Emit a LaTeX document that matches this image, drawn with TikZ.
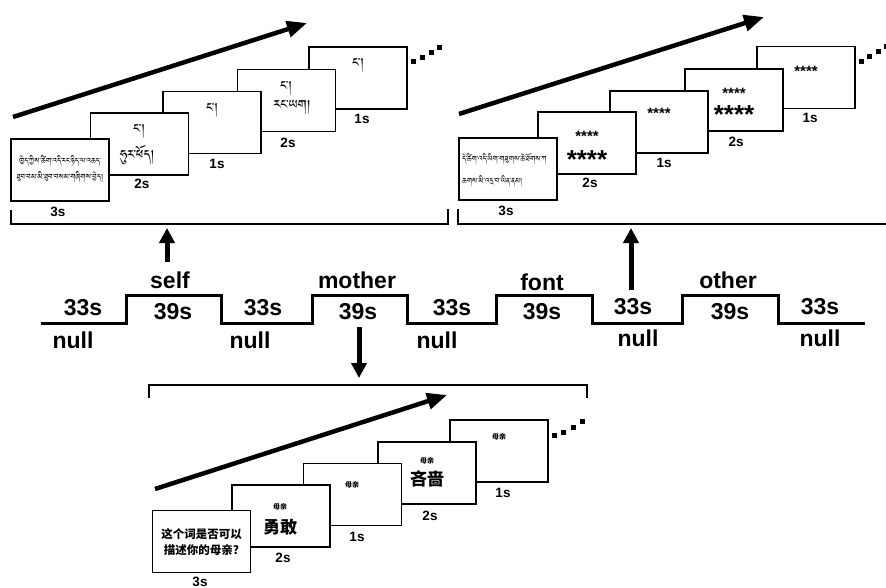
\documentclass[tikz,border=0pt]{standalone}
\usepackage{fontspec}
\setmainfont{Liberation Sans}
\newfontfamily\cjk{Noto Sans CJK SC}
\IfFontExistsTF{Jomolhari}{\newfontfamily\tib[Script=Tibetan]{Jomolhari}}{\newfontfamily\tib{FreeSerif}}
\usetikzlibrary{arrows.meta}
\tikzset{
  frame/.style={draw, line width=1.6pt, fill=white, minimum width=98pt, minimum height=62pt, inner sep=0pt},
  dur/.style={font=\fontsize{13.5}{14}\selectfont\bfseries, inner sep=0pt},
  tl/.style={font=\fontsize{23}{24}\selectfont\bfseries, inner sep=0pt},
  bigarrow/.style={line width=4.5pt, -{Triangle[length=20pt,width=16pt]}},
  vertarrow/.style={line width=5pt, -{Triangle[length=15pt,width=15pt]}},
  bracket/.style={line width=1.6pt},
  sq/.style={fill=black},
  star/.style={font=\fontsize{#1}{#1}\selectfont\bfseries, inner sep=0pt},
  zh/.style={font=\cjk\fontsize{#1}{#1}\selectfont\bfseries, inner sep=0pt},
  bo/.style={font=\tib\fontsize{#1}{#1}\selectfont, inner sep=0pt},
}
\begin{document}
\begin{tikzpicture}[x=1pt,y=-1pt]
\useasboundingbox (0,0) rectangle (886,588);

% ---------- top-left panel ----------
\draw[bigarrow] (13,117) -- (307,23);
\node[frame] (a5) at (358,78) {};
\node[frame] (a4) at (286.5,100.5) {};
\node[frame] (a3) at (212,122.5) {};
\node[frame] (a2) at (139.5,144) {};
\node[frame] (a1) at (60,170) {};
\node[dur] (a1t) at (58,212) {3s};
\node[dur] (a2t) at (142,184) {2s};
\node[dur] (a3t) at (217,164) {1s};
\node[dur] (a4t) at (288,143) {2s};
\node[dur] (a5t) at (362,119) {1s};
\node[bo=9.5] (a1a) at (60,161) {ཁྱེད་ཀྱིས་ཚིག་འདི་རང་ཉིད་ལ་འཆད་};
\node[bo=9.5] (a1b) at (60,177) {ཐུབ་བམ་མི་ཐུབ་བསམ་གཞིགས་བྱེད།};
\node[bo=16] (a2a) at (139,131) {ང།};
\node[bo=16] (a2b) at (137,155) {ཧུར་ཕོད།};
\node[bo=16] (a3a) at (212,110) {ང།};
\node[bo=16] (a4a) at (286,88) {ང།};
\node[bo=16] (a4b) at (292,108) {རང་ཡག།};
\node[bo=16] (a5a) at (358,65) {ང།};
\foreach \x/\y in {413/62,422/58,431/53,439/48}{\fill[sq] (\x-2.5,\y-2.5) rectangle (\x+2.5,\y+2.5);}
\draw[bracket] (11,210) -- (11,224) -- (448,224) -- (448,209);

% ---------- top-right panel ----------
\draw[bigarrow] (459,114) -- (764,17);
\node[frame] (b5) at (806,77.5) {};
\node[frame] (b4) at (734,100) {};
\node[frame] (b3) at (659,122) {};
\node[frame] (b2) at (587,143) {};
\node[frame] (b1) at (508,169) {};
\node[dur] (b1t) at (506,211) {3s};
\node[dur] (b2t) at (590,183) {2s};
\node[dur] (b3t) at (664,163) {1s};
\node[dur] (b4t) at (736,142) {2s};
\node[dur] (b5t) at (810,118) {1s};
\node[bo=9.3, anchor=west] (b1a) at (462,159) {དེ་ཚིག་འདི་ཡིག་གཟུགས་ཆེ་ཐོགས་ཀ};
\node[bo=9.3, anchor=west] (b1b) at (462,181) {ཆགས་མི་འདྲ་བ་ཡིན་ནམ།};
\node[star=15] (b2s) at (587,136) {****};
\node[star=26] (b2l) at (587,160) {****};
\node[star=15] (b3s) at (659,113) {****};
\node[star=15] (b4s) at (734,93) {****};
\node[star=26] (b4l) at (734,115) {****};
\node[star=15] (b5s) at (806,71) {****};
\foreach \x/\y in {861/62,869/57,878/52,886/47}{\fill[sq] (\x-2.5,\y-2.5) rectangle (\x+2.5,\y+2.5);}
\draw[bracket] (458,209) -- (458,224) -- (886,224);

% ---------- timeline ----------
\draw[line width=3pt] (41,323) -- (126,323) -- (126,295) -- (221,295) -- (221,323)
  -- (312,323) -- (312,295) -- (407,295) -- (407,323) -- (496,323) -- (496,295)
  -- (592,295) -- (592,323) -- (682,323) -- (682,295) -- (778,295) -- (778,323) -- (865,323);
\node[tl] (n1d) at (83,308) {33s};
\node[tl] (n1) at (73,340) {null};
\node[tl] (self) at (170,280) {self};
\node[tl] (selfd) at (173,312) {39s};
\node[tl] (n2d) at (263,308) {33s};
\node[tl] (n2) at (250,340) {null};
\node[tl] (moth) at (357,280) {mother};
\node[tl] (mothd) at (358,312) {39s};
\node[tl] (n3d) at (452,308) {33s};
\node[tl] (n3) at (437,340) {null};
\node[tl] (font) at (542,282) {font};
\node[tl] (fontd) at (542,312) {39s};
\node[tl] (n4d) at (633,307) {33s};
\node[tl] (n4) at (638,338) {null};
\node[tl] (oth) at (728,280) {other};
\node[tl] (othd) at (730,312) {39s};
\node[tl] (n5d) at (820,307) {33s};
\node[tl] (n5) at (820,338) {null};

\coordinate (selftip) at (167,228);
\coordinate (fonttip) at (631,228);
\coordinate (mothtip) at (359,378);
\draw[vertarrow] (167,262) -- (selftip);
\draw[vertarrow] (631,290) -- (fonttip);
\draw[vertarrow] (359,327) -- (mothtip);

% ---------- bottom panel ----------
\draw[bracket] (149,398) -- (149,385) -- (587,385) -- (587,398);
\draw[bigarrow] (155,489) -- (447,395);
\node[frame] (c5) at (499,451) {};
\node[frame] (c4) at (427,473) {};
\node[frame] (c3) at (352.5,494.5) {};
\node[frame] (c2) at (281,516) {};
\node[frame] (c1) at (201.5,541.5) {};
\node[dur] (c1t) at (200,582) {3s};
\node[dur] (c2t) at (283,558) {2s};
\node[dur] (c3t) at (357,537) {1s};
\node[dur] (c4t) at (430,516) {2s};
\node[dur] (c5t) at (503,493) {1s};
\node[zh=11.5] (c1a) at (201.5,534) {这个词是否可以};
\node[zh=11.5] (c1b) at (201.5,550) {描述你的母亲?};
\node[zh=7] (c2a) at (280,507) {母亲};
\node[zh=17] (c2b) at (280,527) {勇敢};
\node[zh=7] (c3a) at (352,485) {母亲};
\node[zh=7] (c4a) at (427,461) {母亲};
\node[zh=17] (c4b) at (427,479) {吝啬};
\node[zh=7] (c5a) at (499,437) {母亲};
\foreach \x/\y in {554/435,563/432,573/427,582/421}{\fill[sq] (\x-2.5,\y-2.5) rectangle (\x+2.5,\y+2.5);}
\end{tikzpicture}
\end{document}
